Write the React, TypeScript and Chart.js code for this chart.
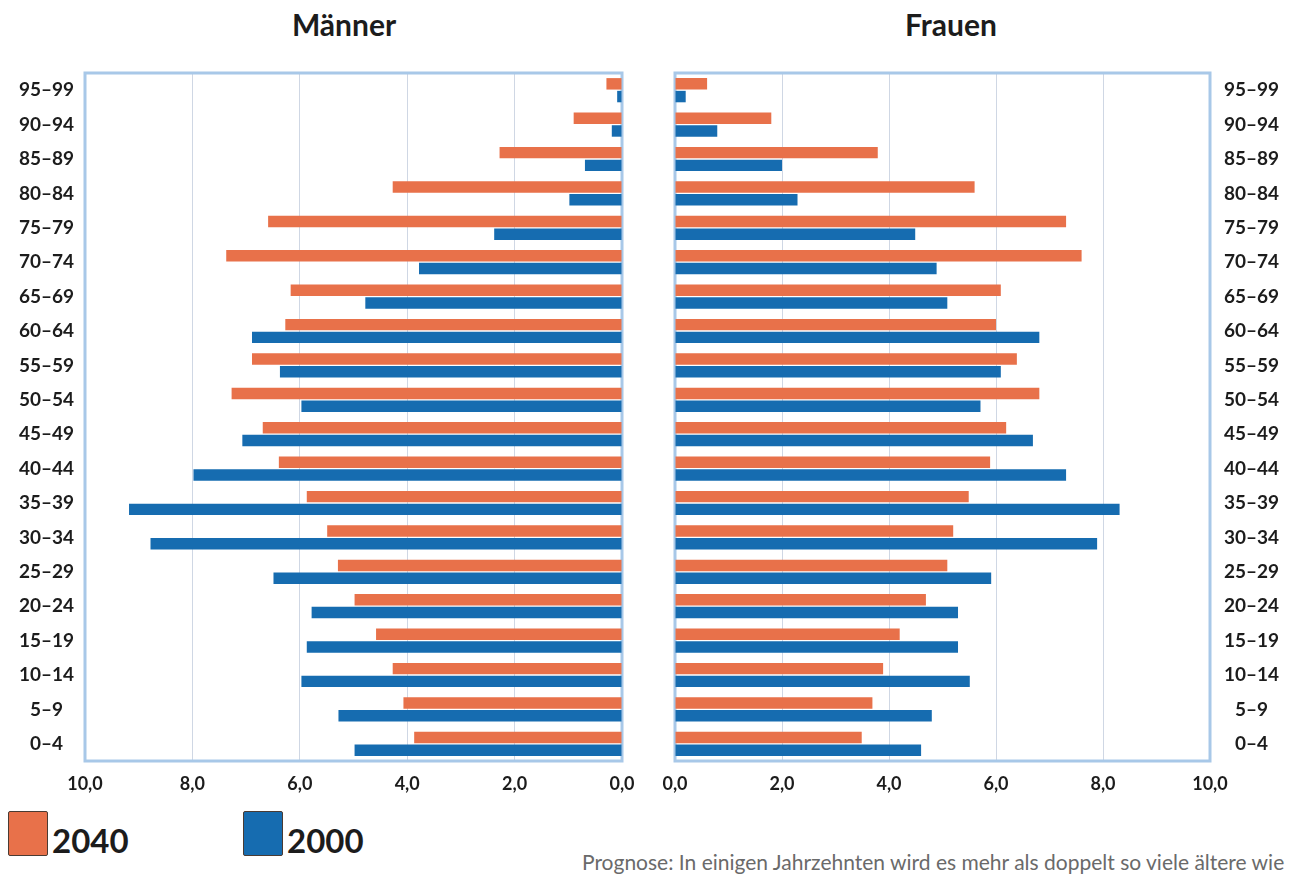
import React, { useEffect, useRef } from "react";
import { Chart, registerables } from "chart.js";

Chart.register(...registerables);

// Age groups, top to bottom
const ageGroups = [
  "95–99", "90–94", "85–89", "80–84", "75–79", "70–74", "65–69", "60–64", "55–59", "50–54",
  "45–49", "40–44", "35–39", "30–34", "25–29", "20–24", "15–19", "10–14", "5–9", "0–4",
];

// Männer (percent)
const men2040 = [0.29, 0.9, 2.28, 4.27, 6.59, 7.37, 6.17, 6.27, 6.89, 7.27, 6.69, 6.39, 5.87, 5.49, 5.29, 4.98, 4.58, 4.27, 4.07, 3.87];
const men2000 = [0.09, 0.19, 0.69, 0.98, 2.38, 3.78, 4.78, 6.89, 6.37, 5.97, 7.07, 7.98, 9.18, 8.78, 6.49, 5.78, 5.87, 5.97, 5.28, 4.98];

// Frauen (percent)
const women2040 = [0.6, 1.8, 3.79, 5.6, 7.31, 7.6, 6.09, 6.0, 6.39, 6.81, 6.19, 5.89, 5.49, 5.2, 5.09, 4.69, 4.2, 3.89, 3.69, 3.49];
const women2000 = [0.2, 0.79, 2.0, 2.29, 4.49, 4.89, 5.09, 6.81, 6.09, 5.71, 6.69, 7.31, 8.31, 7.89, 5.91, 5.29, 5.29, 5.51, 4.8, 4.6];

const seriesNames = ["2040", "2000"];
const axisMin = 0;
const axisMax = 10;
const axisStep = 2;

const ORANGE = "#e8714a";
const BLUE = "#166cb0";
const FRAME = "#a8c8e8";
const GRID = "#cfd7e4";
const TEXT = "#1c1c1c";
const FONT = "Lato, 'Open Sans', sans-serif";

const framePlugin = {
  id: "frame",
  beforeDatasetsDraw(chart: any) {
    const { ctx, chartArea: a } = chart;
    ctx.save();
    ctx.strokeStyle = FRAME;
    ctx.lineWidth = 3;
    ctx.strokeRect(a.left, a.top, a.right - a.left, a.bottom - a.top);
    ctx.restore();
  },
};

function Pane({ side, v2040, v2000 }: { side: "left" | "right"; v2040: number[]; v2000: number[] }) {
  const ref = useRef<HTMLCanvasElement | null>(null);
  useEffect(() => {
    if (!ref.current) return;
    const isLeft = side === "left";
    const tickFont = { family: FONT, size: 19, weight: "bold" as const };
    const chart = new Chart(ref.current, {
      type: "bar",
      data: {
        labels: ageGroups,
        datasets: [
          { label: seriesNames[0], data: v2040, backgroundColor: ORANGE, categoryPercentage: 0.74, barPercentage: 0.9 },
          { label: seriesNames[1], data: v2000, backgroundColor: BLUE, categoryPercentage: 0.74, barPercentage: 0.9 },
        ],
      },
      options: {
        indexAxis: "y",
        animation: false,
        responsive: true,
        maintainAspectRatio: false,
        layout: {
          padding: isLeft ? { top: 73, right: 28, left: 0, bottom: 0 } : { top: 73, left: 25, right: 0, bottom: 0 },
        },
        plugins: { legend: { display: false }, tooltip: { enabled: false }, title: { display: false } },
        scales: {
          x: {
            type: "linear",
            reverse: isLeft,
            min: axisMin,
            max: axisMax,
            ticks: {
              stepSize: axisStep,
              padding: 12,
              color: TEXT,
              font: { family: FONT, size: 18, weight: "bold" },
              callback: (v: any) => Number(v).toFixed(1).replace(".", ","),
            },
            grid: { color: GRID, drawTicks: false, lineWidth: 1 },
            border: { display: false },
            afterFit: (s: any) => {
              s.height = 39;
            },
          },
          y: {
            type: "category",
            position: isLeft ? "left" : "right",
            grid: { display: false, drawTicks: false },
            border: { display: false },
            ticks: { crossAlign: "center", padding: isLeft ? 11 : 14, color: TEXT, font: tickFont, autoSkip: false },
            afterFit: (s: any) => {
              s.width = isLeft ? 85 : 90;
            },
          },
        },
      } as any,
      plugins: [framePlugin],
    });
    return () => chart.destroy();
  }, [side, v2040, v2000]);
  return (
    <div style={{ position: "absolute", left: side === "left" ? 0 : 650, top: 0, width: 650, height: 800 }}>
      <canvas ref={ref} />
    </div>
  );
}

export default function App() {
  const titleStyle: React.CSSProperties = {
    position: "absolute",
    top: 6,
    width: 300,
    textAlign: "center",
    fontFamily: FONT,
    fontWeight: 700,
    fontSize: 30,
    color: TEXT,
  };
  const legendBox = (color: string, left: number): React.CSSProperties => ({
    position: "absolute",
    left,
    top: 811,
    width: 38,
    height: 43,
    background: color,
    border: "1px solid #4a3b33",
    borderRadius: 2,
  });
  const legendText = (left: number): React.CSSProperties => ({
    position: "absolute",
    left,
    top: 818,
    fontFamily: FONT,
    fontWeight: 700,
    fontSize: 33,
    color: TEXT,
    lineHeight: "44px",
  });
  return (
    <div
      style={{
        position: "absolute",
        left: 0,
        top: 0,
        width: 1300,
        height: 879,
        background: "#ffffff",
        overflow: "hidden",
      }}
    >
      <div style={{ ...titleStyle, left: 344 - 150 }}>Männer</div>
      <div style={{ ...titleStyle, left: 951 - 150 }}>Frauen</div>
      <Pane side="left" v2040={men2040} v2000={men2000} />
      <Pane side="right" v2040={women2040} v2000={women2000} />
      <div style={legendBox(ORANGE, 8)} />
      <div style={legendText(52)}>{seriesNames[0]}</div>
      <div style={legendBox(BLUE, 243)} />
      <div style={legendText(287)}>{seriesNames[1]}</div>
      <div
        style={{
          position: "absolute",
          left: 582,
          top: 849,
          fontFamily: FONT,
          fontSize: 21,
          color: "#6a6a6a",
          whiteSpace: "nowrap",
        }}
      >
        Prognose: In einigen Jahrzehnten wird es mehr als doppelt so viele ältere wie
      </div>
    </div>
  );
}
